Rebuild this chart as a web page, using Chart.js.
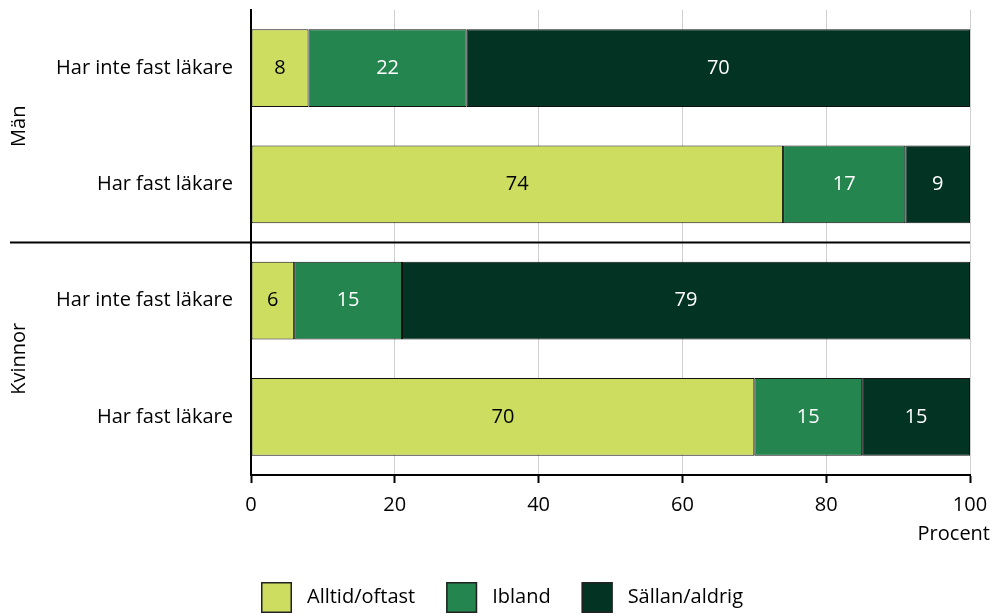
<!DOCTYPE html>
<html lang="sv">
<head>
<meta charset="utf-8">
<script src="https://cdn.jsdelivr.net/npm/chart.js@4.4.1/dist/chart.umd.min.js"></script>
<style>
  html, body { margin: 0; padding: 0; background: #fff; }
  #wrap { width: 995px; height: 615px; position: relative; }
</style>
</head>
<body>
<div id="wrap"><canvas id="chart"></canvas></div>
<script>
// Andel som får träffa samma läkare, per kön och om man har fast läkare
const categories = ["Har inte fast läkare", "Har fast läkare", "Har inte fast läkare", "Har fast läkare"];
const groups = ["Män", "Kvinnor"];
const seriesNames = ["Alltid/oftast", "Ibland", "Sällan/aldrig"];
const alltidOftast = [8, 74, 6, 70];
const ibland = [22, 17, 15, 15];
const sallanAldrig = [70, 9, 79, 15];
const xTicks = [0, 20, 40, 60, 80, 100];

const colors = ["#cddd5f", "#24854f", "#023323"];
const textColors = ["#000", "#fff", "#fff"];
const FONT = "'Open Sans'";
const FS = 20;

// etiketter i staplarna, gruppnamn, skiljelinje, "Procent" och förklaring
const extras = {
  id: "extras",
  afterDatasetsDraw(chart) {
    const ctx = chart.ctx;
    const area = chart.chartArea;
    const y = chart.scales.y;
    ctx.save();
    ctx.font = `${FS}px ${FONT}`;
    ctx.textAlign = "center";
    ctx.textBaseline = "middle";
    chart.data.datasets.forEach((ds, i) => {
      chart.getDatasetMeta(i).data.forEach((bar, j) => {
        const c = bar.getCenterPoint();
        ctx.fillStyle = textColors[i];
        ctx.fillText(ds.data[j], c.x, c.y);
      });
    });

    // linje mellan män och kvinnor
    const mid = (y.getPixelForValue(1) + y.getPixelForValue(2)) / 2;
    ctx.strokeStyle = "#000";
    ctx.lineWidth = 2;
    ctx.beginPath();
    ctx.moveTo(10, mid);
    ctx.lineTo(area.right, mid);
    ctx.stroke();

    // gruppnamn, roterade
    ctx.fillStyle = "#000";
    const centers = [(area.top + mid) / 2, (mid + area.bottom) / 2];
    groups.forEach((g, k) => {
      ctx.save();
      ctx.translate(19, centers[k]);
      ctx.rotate(-Math.PI / 2);
      ctx.fillText(g, 0, 0);
      ctx.restore();
    });

    // axeltitel
    ctx.textAlign = "right";
    ctx.fillText("Procent", 990, 534);
    ctx.restore();
  },
  afterDraw(chart) {
    const ctx = chart.ctx;
    ctx.save();
    ctx.font = `${FS}px ${FONT}`;
    ctx.textBaseline = "middle";
    const box = 31, gap = 15, spacing = 31;
    const widths = seriesNames.map(n => box + gap + ctx.measureText(n).width);
    const total = widths.reduce((a, b) => a + b, 0) + spacing * (seriesNames.length - 1);
    let x = Math.round(502 - total / 2);
    const top = 582;
    seriesNames.forEach((n, i) => {
      ctx.fillStyle = colors[i];
      ctx.fillRect(x, top, box, box);
      ctx.strokeStyle = "#222";
      ctx.lineWidth = 1.5;
      ctx.strokeRect(x + 0.75, top + 0.75, box - 1.5, box - 1.5);
      ctx.fillStyle = "#000";
      ctx.fillText(n, x + box + gap, top + box / 2);
      x += widths[i] + spacing;
    });
    ctx.restore();
  }
};

const datasets = [alltidOftast, ibland, sallanAldrig].map((data, i) => ({
  label: seriesNames[i],
  data: data,
  backgroundColor: colors[i],
  borderColor: "#111",
  borderWidth: 1,
  borderSkipped: false,
  categoryPercentage: 1,
  barPercentage: 0.67
}));

new Chart(document.getElementById("chart"), {
  type: "bar",
  data: { labels: categories, datasets: datasets },
  options: {
    indexAxis: "y",
    responsive: true,
    maintainAspectRatio: false,
    animation: false,
    layout: { padding: { top: 10, right: 25, bottom: 0, left: 0 } },
    plugins: {
      legend: { display: false },
      tooltip: { enabled: false }
    },
    scales: {
      x: {
        stacked: true,
        min: 0,
        max: 100,
        afterBuildTicks(s) { s.ticks = xTicks.map(v => ({ value: v })); },
        grid: { color: "#cfcfcf", lineWidth: 1, tickColor: "#000", tickLength: 8, tickWidth: 2 },
        border: { color: "#000", width: 2 },
        ticks: { color: "#000", font: { family: FONT, size: FS }, padding: 10, maxRotation: 0 },
        afterFit(s) { s.height = 140; s.paddingLeft = 0; s.paddingRight = 0; }
      },
      y: {
        stacked: true,
        grid: { display: false, drawTicks: false },
        border: { color: "#000", width: 2 },
        ticks: { color: "#000", font: { family: FONT, size: FS }, padding: 18 },
        afterFit(s) { s.width = 251; s.paddingTop = 0; s.paddingBottom = 0; }
      }
    }
  },
  plugins: [extras]
});
</script>
</body>
</html>
